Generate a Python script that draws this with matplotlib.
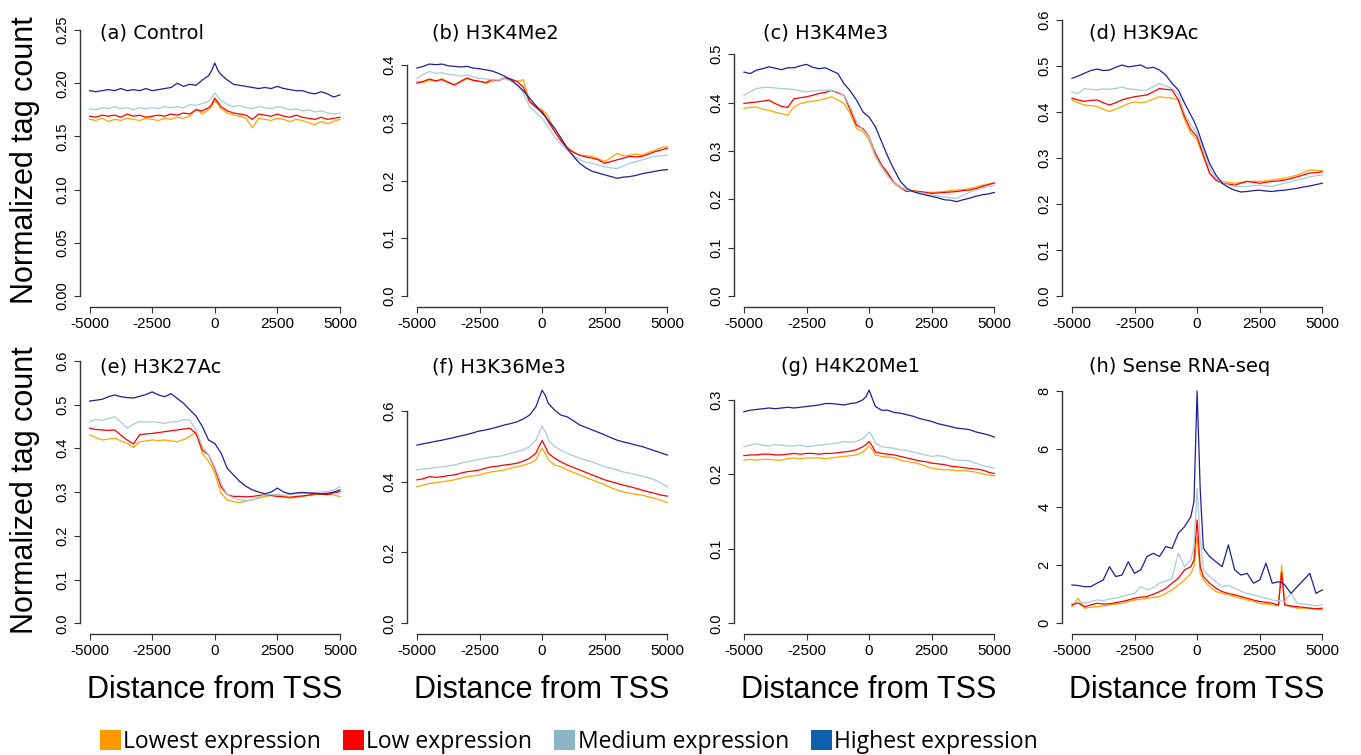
import matplotlib
matplotlib.use('Agg')
import matplotlib.pyplot as plt
from matplotlib.patches import Patch
from matplotlib import font_manager
import numpy as np

# distance from TSS (bp); extra points near 0 for the sharp peaks
X = [-5000, -4750, -4500, -4250, -4000, -3750, -3500, -3250, -3000, -2750,
     -2500, -2250, -2000, -1750, -1500, -1250, -1000, -750, -500, -250,
     -125, 0, 125,
     250, 500, 750, 1000, 1250, 1500, 1750, 2000, 2250, 2500,
     2750, 3000, 3250, 3500, 3750, 4000, 4250, 4500, 4750, 5000]
# panel (h) has one more point for the spike near 3400
X_H = X[:36] + [3375] + X[36:]

groups = ['Lowest expression', 'Low expression', 'Medium expression', 'Highest expression']
titles = ['(a) Control', '(b) H3K4Me2', '(c) H3K4Me3', '(d) H3K9Ac',
          '(e) H3K27Ac', '(f) H3K36Me3', '(g) H4K20Me1', '(h) Sense RNA-seq']

# (a) Control
a_lowest = [.166, .165, .167, .164, .166, .165, .167, .166, .165, .167, .166, .165, .167, .166, .168, .167, .169, .176, .171, .175,
            .178, .184, .180,
            .176, .172, .170, .169, .167, .158, .167, .166, .165, .167, .166, .164, .166, .165, .163, .161, .164, .162, .164, .166]
a_low = [.169, .168, .170, .169, .170, .168, .171, .169, .170, .168, .169, .170, .169, .171, .170, .172, .171, .175, .174, .177,
         .180, .186, .182,
         .178, .174, .172, .171, .170, .166, .171, .170, .169, .171, .169, .168, .170, .168, .167, .166, .168, .166, .167, .168]
a_medium = [.176, .175, .177, .176, .178, .176, .177, .175, .177, .176, .177, .176, .178, .177, .178, .177, .180, .179, .181, .183,
            .186, .191, .187,
            .184, .180, .178, .179, .177, .176, .178, .177, .176, .178, .177, .175, .176, .174, .175, .173, .174, .172, .171, .172]
a_highest = [.193, .192, .193, .194, .193, .195, .193, .194, .193, .195, .193, .194, .195, .196, .200, .197, .199, .198, .203, .207,
             .212, .219, .212,
             .208, .203, .199, .198, .197, .196, .195, .196, .195, .197, .195, .194, .193, .193, .191, .190, .192, .190, .187, .189]

# (b) H3K4Me2
b_lowest = [.372, .370, .374, .372, .377, .371, .366, .371, .377, .373, .372, .369, .372, .374, .377, .374, .372, .375, .337, .330,
            .326, .323, .318,
            .311, .285, .271, .259, .250, .244, .243, .242, .238, .233, .240, .247, .243, .244, .246, .244, .249, .253, .257, .259]
b_low = [.369, .372, .376, .373, .375, .370, .366, .372, .378, .374, .372, .370, .375, .373, .378, .376, .372, .362, .337, .327,
         .323, .320, .312,
         .302, .285, .269, .256, .249, .244, .241, .239, .236, .230, .233, .236, .239, .242, .241, .242, .246, .250, .253, .256]
b_medium = [.377, .384, .389, .386, .387, .384, .383, .381, .383, .380, .377, .376, .375, .374, .377, .372, .366, .352, .328, .318,
            .313, .308, .300,
            .292, .276, .263, .253, .244, .236, .232, .230, .227, .224, .222, .221, .225, .230, .233, .236, .239, .242, .243, .244]
b_highest = [.395, .398, .402, .401, .402, .399, .398, .397, .398, .395, .394, .392, .390, .386, .381, .375, .366, .356, .343, .330,
             .323, .317, .311,
             .304, .291, .274, .256, .242, .230, .222, .216, .213, .210, .207, .204, .206, .207, .209, .212, .214, .216, .218, .219]

# (c) H3K4Me3
c_lowest = [.388, .390, .391, .386, .384, .380, .377, .374, .391, .398, .401, .403, .405, .408, .412, .405, .398, .377, .346, .340,
            .332, .322, .305,
            .288, .267, .250, .236, .226, .219, .218, .216, .215, .214, .215, .216, .218, .219, .220, .222, .225, .229, .231, .233]
c_low = [.398, .400, .401, .403, .405, .398, .392, .390, .408, .410, .412, .415, .419, .421, .425, .420, .415, .384, .353, .346,
         .338, .329, .312,
         .295, .271, .254, .233, .224, .216, .217, .216, .214, .212, .213, .214, .215, .216, .218, .219, .222, .226, .230, .234]
c_medium = [.415, .422, .429, .431, .432, .430, .429, .428, .427, .424, .422, .424, .425, .426, .425, .422, .415, .391, .360, .343,
            .336, .329, .310,
            .288, .267, .247, .233, .225, .219, .216, .214, .212, .209, .207, .205, .203, .202, .208, .214, .219, .223, .226, .229]
c_highest = [.463, .460, .467, .470, .474, .471, .468, .472, .472, .476, .479, .473, .470, .472, .466, .460, .439, .424, .405, .381,
             .375, .370, .360,
             .350, .319, .288, .261, .237, .223, .216, .212, .209, .206, .203, .199, .198, .195, .199, .202, .206, .209, .211, .214]

# (d) H3K9Ac
d_lowest = [.426, .420, .415, .414, .412, .406, .401, .406, .412, .418, .422, .420, .422, .428, .433, .431, .430, .426, .383, .354,
            .347, .339, .321,
            .303, .267, .252, .249, .247, .245, .247, .249, .249, .249, .250, .252, .254, .256, .259, .263, .268, .274, .273, .272]
d_low = [.430, .426, .423, .425, .426, .420, .415, .420, .426, .430, .433, .435, .437, .444, .451, .449, .448, .426, .390, .361,
         .354, .346, .326,
         .306, .267, .252, .245, .243, .241, .245, .249, .247, .245, .247, .249, .250, .252, .255, .259, .263, .267, .268, .270]
d_medium = [.444, .440, .451, .449, .448, .450, .449, .451, .454, .450, .449, .447, .448, .455, .462, .456, .451, .437, .397, .372,
            .363, .354, .336,
            .317, .278, .256, .245, .241, .238, .238, .238, .240, .241, .239, .238, .242, .245, .248, .252, .255, .259, .261, .263]
d_highest = [.473, .478, .484, .490, .493, .490, .491, .497, .502, .498, .500, .502, .495, .497, .491, .480, .462, .448, .419, .393,
             .380, .364, .345,
             .325, .288, .263, .245, .236, .230, .226, .227, .229, .230, .228, .227, .229, .230, .232, .234, .237, .239, .242, .245]

# (e) H3K27Ac
e_lowest = [.431, .425, .419, .421, .423, .417, .411, .402, .415, .417, .419, .418, .419, .417, .415, .420, .427, .438, .389, .370,
            .357, .343, .320,
            .297, .282, .278, .276, .279, .282, .286, .290, .292, .294, .290, .286, .288, .290, .292, .294, .295, .296, .293, .290]
e_low = [.446, .443, .442, .441, .442, .430, .419, .410, .431, .433, .434, .436, .438, .440, .442, .444, .446, .434, .396, .385,
         .370, .354, .333,
         .312, .294, .290, .290, .289, .290, .292, .294, .292, .290, .289, .288, .290, .291, .293, .296, .295, .294, .298, .301]
e_medium = [.461, .466, .464, .468, .472, .460, .446, .455, .461, .460, .461, .459, .457, .460, .461, .466, .464, .442, .404, .385,
            .372, .358, .339,
            .320, .294, .286, .282, .281, .282, .288, .294, .294, .294, .293, .294, .296, .297, .298, .299, .300, .301, .305, .312]
e_highest = [.508, .510, .512, .518, .522, .518, .516, .515, .519, .523, .529, .522, .518, .525, .514, .503, .488, .474, .450, .419,
             .415, .411, .400,
             .389, .354, .339, .324, .313, .305, .300, .296, .300, .309, .300, .296, .298, .299, .298, .297, .296, .297, .300, .305]

# (f) H3K36Me3
f_lowest = [.386, .390, .395, .397, .400, .402, .405, .410, .414, .416, .419, .424, .428, .430, .433, .438, .442, .446, .452, .461,
            .480, .494, .480,
            .461, .447, .442, .433, .426, .419, .412, .405, .398, .391, .383, .376, .371, .367, .364, .362, .357, .353, .347, .341]
f_low = [.405, .408, .414, .412, .414, .417, .419, .424, .428, .430, .433, .438, .442, .444, .447, .449, .452, .458, .466, .480,
         .499, .516, .499,
         .480, .466, .456, .447, .440, .433, .426, .419, .412, .405, .400, .395, .390, .386, .381, .376, .371, .367, .362, .359]
f_medium = [.433, .436, .437, .440, .442, .444, .447, .452, .456, .459, .463, .466, .470, .471, .475, .480, .485, .490, .499, .517,
            .536, .557, .541,
            .517, .499, .489, .480, .473, .466, .461, .456, .449, .442, .438, .433, .427, .424, .419, .416, .411, .405, .396, .386]
f_highest = [.503, .507, .510, .514, .517, .521, .525, .529, .533, .538, .543, .546, .550, .555, .560, .564, .569, .577, .588, .611,
             .635, .658, .644,
             .621, .602, .588, .583, .572, .560, .553, .546, .539, .532, .524, .517, .512, .508, .503, .499, .493, .487, .481, .475]

# (g) H4K20Me1
g_lowest = [.219, .220, .219, .220, .220, .219, .219, .221, .222, .221, .222, .222, .222, .221, .222, .223, .224, .225, .226, .230,
            .234, .238, .233,
            .226, .224, .223, .222, .219, .217, .216, .214, .211, .208, .207, .206, .206, .205, .205, .204, .203, .201, .199, .198]
g_low = [.225, .226, .226, .227, .227, .226, .226, .227, .228, .227, .228, .228, .227, .228, .228, .229, .230, .231, .233, .237,
         .240, .244, .238,
         .230, .228, .227, .226, .224, .222, .220, .218, .217, .215, .214, .213, .211, .210, .209, .208, .207, .206, .203, .201]
g_medium = [.237, .239, .241, .239, .238, .240, .239, .238, .238, .239, .237, .238, .239, .240, .241, .242, .244, .243, .244, .248,
            .252, .257, .251,
            .242, .237, .236, .235, .233, .232, .230, .228, .226, .224, .225, .224, .221, .219, .219, .218, .215, .212, .210, .208]
g_highest = [.284, .286, .287, .288, .289, .288, .289, .290, .289, .290, .291, .292, .293, .295, .295, .294, .293, .295, .296, .300,
             .304, .313, .302,
             .291, .286, .286, .283, .282, .280, .278, .275, .273, .271, .268, .266, .264, .262, .261, .260, .257, .255, .253, .250]

# (h) Sense RNA-seq (44 points, see X_H)
h_lowest = [.57, .86, .52, .55, .57, .60, .63, .66, .69, .75, .80, .83, .86, .89, .92, 1.03, 1.15, 1.32, 1.49, 1.72,
            1.95, 2.98, 1.72,
            1.49, 1.26, 1.09, 1.03, .97, .92, .86, .80, .75, .69, .66, .63, .60, 2.00, .63, .57, .52, .52, .52, .49, .46]
h_low = [.63, .70, .57, .63, .69, .66, .67, .71, .75, .80, .86, .90, .92, 1.00, 1.09, 1.20, 1.38, 1.55, 1.84, 1.95,
         2.18, 3.56, 1.95,
         1.61, 1.38, 1.21, 1.09, 1.03, .98, .92, .86, .80, .75, .72, .69, .63, 1.75, .63, .60, .57, .55, .52, .50, .52]
h_medium = [.69, .74, .69, .75, .80, .78, .83, .87, .92, .98, 1.03, 1.26, 1.15, 1.22, 1.38, 1.45, 1.55, 2.41, 1.95, 2.18,
            2.64, 4.65, 2.87,
            1.84, 1.61, 1.43, 1.26, 1.30, 1.21, 1.10, 1.03, .98, .92, .86, .80, .78, .76, .75, 1.05, .69, .66, .63, .60, .63]
h_highest = [1.32, 1.30, 1.26, 1.26, 1.38, 1.49, 1.95, 1.61, 1.66, 2.12, 1.72, 1.84, 2.30, 2.41, 2.30, 2.64, 2.58, 3.10, 3.33, 3.67,
             4.20, 8.00, 4.60,
             2.58, 2.30, 2.12, 1.95, 2.70, 1.84, 1.66, 1.72, 1.38, 1.49, 2.07, 1.38, 1.43, 1.40, 1.32, 1.03, 1.26, 1.49, 1.72, 1.03, 1.15]

panels = [
    (X, [a_lowest, a_low, a_medium, a_highest]),
    (X, [b_lowest, b_low, b_medium, b_highest]),
    (X, [c_lowest, c_low, c_medium, c_highest]),
    (X, [d_lowest, d_low, d_medium, d_highest]),
    (X, [e_lowest, e_low, e_medium, e_highest]),
    (X, [f_lowest, f_low, f_medium, f_highest]),
    (X, [g_lowest, g_low, g_medium, g_highest]),
    (X_H, [h_lowest, h_low, h_medium, h_highest]),
]
# y range top (before the 4% R-style padding) and y ticks
ytop = [0.25, 0.461, 0.55, 0.578, 0.608, 0.751, 0.357, 9.16]
yticks = [[0, 0.05, 0.10, 0.15, 0.20, 0.25], [0, 0.1, 0.2, 0.3, 0.4], [0, 0.1, 0.2, 0.3, 0.4, 0.5],
          [0, 0.1, 0.2, 0.3, 0.4, 0.5, 0.6], [0, 0.1, 0.2, 0.3, 0.4, 0.5, 0.6], [0, 0.2, 0.4, 0.6],
          [0, 0.1, 0.2, 0.3], [0, 2, 4, 6, 8]]
yfmt = ['%.2f', '%.1f', '%.1f', '%.1f', '%.1f', '%.1f', '%.1f', '%d']
xticks = [-5000, -2500, 0, 2500, 5000]

line_colors = ['#ffa500', '#ff0000', '#a9cbd6', '#1f1f98']
patch_colors = ['#ff9900', '#ff0000', '#8cb5c5', '#0f60ad']
title_dx = [20, 25, 29, 27, 20, 25, 47, 27]  # px from axes left


def pick_font(names):
    for n in names:
        try:
            font_manager.findfont(n, fallback_to_default=False)
            return n
        except Exception:
            pass
    return 'DejaVu Sans'


sans = pick_font(['Liberation Sans', 'Arial'])
legfont = pick_font(['Open Sans', 'Noto Sans'])

W, H = 1361, 755
fig = plt.figure(figsize=(W / 100, H / 100), dpi=100)

ax_w = 270.4
ax_h = 287.2
lefts = [79.6, 406.9, 733.9, 1061.9]
bottoms = [306.6, 633.9]

for i, (xs, series) in enumerate(panels):
    row, col = divmod(i, 4)
    ax = fig.add_axes([lefts[col] / W, 1 - bottoms[row] / H, ax_w / W, ax_h / H])
    for ys, c in zip(series, line_colors):
        ax.plot(xs, ys, color=c, lw=0.9)
    xr = 10000 * 0.04
    ax.set_xlim(-5000 - xr, 5000 + xr)
    yr = ytop[i] * 0.04
    ax.set_ylim(-yr, ytop[i] + yr)

    for s in ['top', 'right']:
        ax.spines[s].set_visible(False)
    for s in ['left', 'bottom']:
        ax.spines[s].set_color('#333333')
        ax.spines[s].set_linewidth(1.0)
    ax.spines['bottom'].set_bounds(-5000, 5000)
    ax.spines['left'].set_bounds(yticks[i][0], yticks[i][-1])

    ax.set_xticks(xticks)
    ax.set_xticklabels([str(t) for t in xticks], fontsize=11, family=sans)
    ax.set_yticks(yticks[i])
    ax.set_yticklabels([yfmt[i] % t for t in yticks[i]], fontsize=10.5, family=sans,
                       rotation=90, va='center')
    ax.tick_params(axis='both', direction='out', length=4.5, width=0.8, color='#333333', pad=3)

    ty = 0.953 if row == 0 else 0.930
    ax.text(title_dx[i] / ax_w, ty, titles[i], transform=ax.transAxes,
            fontsize=14, family='DejaVu Sans', ha='left', va='center')

    if row == 1:
        cx = (lefts[col] + ax_w / 2) / W
        fig.text(cx, 1 - 690 / H, 'Distance from TSS', fontsize=22, family=sans,
                 ha='center', va='center')

fig.text(25 / W, 1 - 160 / H, 'Normalized tag count', rotation=90, fontsize=22,
         family=sans, ha='center', va='center')
fig.text(25 / W, 1 - 490 / H, 'Normalized tag count', rotation=90, fontsize=22,
         family=sans, ha='center', va='center')

handles = [Patch(facecolor=c, edgecolor='none') for c in patch_colors]
fig.legend(handles, groups, loc='center left', bbox_to_anchor=(100 / W, 1 - 742 / H),
           ncol=4, frameon=False, borderaxespad=0, borderpad=0,
           handlelength=0.92, handleheight=0.92, handletextpad=0.1,
           columnspacing=0.95, prop={'family': legfont, 'size': 16.5})

fig.savefig('out.png', dpi=100)
